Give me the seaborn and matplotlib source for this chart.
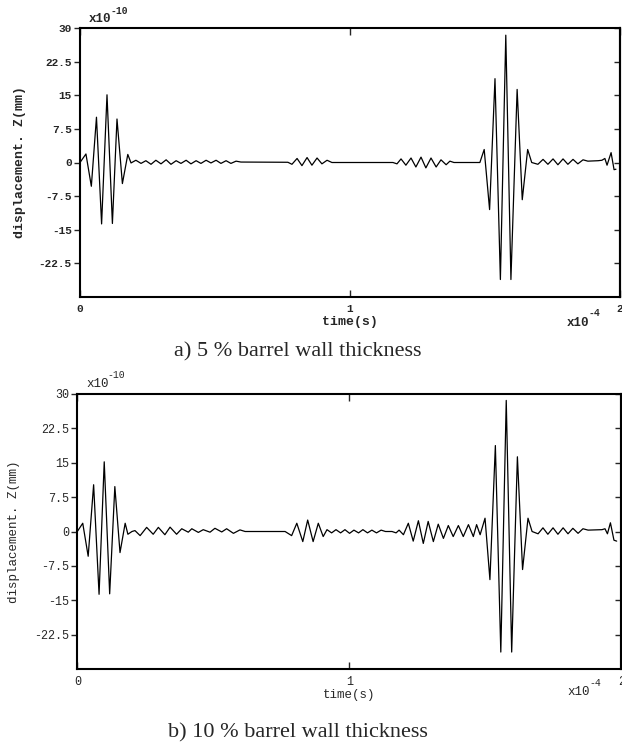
import matplotlib
matplotlib.use("Agg")
import matplotlib.pyplot as plt
import pandas as pd
import seaborn as sns

#############################################################
# Données : temps en x1e-4 s, déplacement en x1e-10 mm
#############################################################
# a) 5 % barrel wall thickness
t_a = [0.000, 0.022, 0.042, 0.061, 0.080, 0.100, 0.120, 0.137, 0.157, 0.177, 0.189,
       0.207, 0.226, 0.244, 0.263, 0.281, 0.300, 0.319, 0.337, 0.356, 0.374, 0.393,
       0.411, 0.430, 0.448, 0.467, 0.485, 0.504, 0.522, 0.541, 0.559, 0.578, 0.596,
       0.770, 0.785, 0.804, 0.822, 0.841, 0.859, 0.878, 0.896, 0.915, 0.933,
       1.159, 1.174, 1.189, 1.207, 1.226, 1.244, 1.263, 1.281, 1.300, 1.319, 1.337,
       1.356, 1.370, 1.385, 1.481,
       1.497, 1.517, 1.537, 1.557, 1.577, 1.596, 1.619, 1.638, 1.658, 1.673,
       1.696, 1.715, 1.733, 1.752, 1.770, 1.789, 1.807, 1.826, 1.844, 1.863, 1.881,
       1.919, 1.933, 1.944, 1.952, 1.967, 1.978, 1.985]
z_a = [0.0, 1.9, -5.3, 10.1, -13.7, 15.1, -13.6, 9.7, -4.7, 1.8, -0.1,
       0.5, -0.2, 0.4, -0.4, 0.5, -0.3, 0.6, -0.4, 0.4, -0.2, 0.5,
       -0.3, 0.4, -0.2, 0.5, -0.1, 0.5, -0.2, 0.4, -0.2, 0.3, 0.1,
       0.05, -0.4, 0.9, -0.7, 1.1, -0.6, 1.0, -0.3, 0.5, 0.0,
       0.0, -0.3, 0.8, -0.6, 1.0, -1.0, 1.2, -1.2, 1.0, -1.0, 0.6,
       -0.5, 0.3, 0.0, 0.0,
       2.9, -10.5, 18.7, -26.1, 28.4, -26.1, 16.3, -8.3, 2.9, 0.0,
       -0.4, 0.7, -0.4, 0.8, -0.5, 0.8, -0.4, 0.7, -0.3, 0.6, 0.3,
       0.4, 0.5, 0.9, -0.6, 2.2, -1.6, -1.5]

# b) 10 % barrel wall thickness
t_b = [0.000, 0.020, 0.040, 0.060, 0.080, 0.099, 0.119, 0.138, 0.157, 0.176,
       0.186, 0.201, 0.212, 0.231, 0.255, 0.279, 0.298, 0.322, 0.341, 0.365,
       0.384, 0.408, 0.421, 0.445, 0.463, 0.488, 0.506, 0.531, 0.549, 0.574,
       0.598, 0.617, 0.764, 0.788, 0.807, 0.829, 0.847, 0.867, 0.886, 0.904,
       0.918, 0.935, 0.951, 0.968, 0.984, 1.001, 1.017, 1.034, 1.050, 1.067,
       1.083, 1.100, 1.117, 1.133, 1.157, 1.172, 1.183, 1.199, 1.217, 1.235,
       1.254, 1.272, 1.290, 1.309, 1.327, 1.346, 1.364, 1.382, 1.401, 1.419,
       1.438, 1.456, 1.468, 1.481, 1.499, 1.517, 1.537, 1.557, 1.577, 1.597,
       1.618, 1.637, 1.657, 1.672, 1.694, 1.712, 1.730, 1.749, 1.767, 1.786,
       1.804, 1.822, 1.841, 1.859, 1.878, 1.929, 1.940, 1.949, 1.960, 1.973, 1.983]
z_b = [0.0, 1.8, -5.4, 10.2, -13.7, 15.2, -13.6, 9.8, -4.6, 1.8,
       -0.6, 0.0, 0.2, -0.9, 0.9, -0.6, 0.9, -0.7, 0.95, -0.6,
       0.6, -0.15, 0.6, -0.2, 0.4, -0.15, 0.7, -0.1, 0.6, -0.4,
       0.35, 0.0, 0.0, -0.9, 1.8, -2.2, 2.5, -2.2, 1.8, -1.1,
       0.4, -0.3, 0.4, -0.3, 0.4, -0.4, 0.3, -0.3, 0.4, -0.3,
       0.3, -0.3, 0.3, 0.0, 0.0, -0.3, 0.3, -0.7, 1.8, -2.1,
       2.35, -2.6, 2.2, -2.2, 1.6, -1.5, 1.3, -1.1, 1.3, -1.1,
       1.5, -1.1, 1.5, -0.7, 2.9, -10.5, 18.75, -26.3, 28.6, -26.3,
       16.3, -8.3, 2.9, 0.0, -0.5, 0.8, -0.6, 0.8, -0.6, 0.8,
       -0.5, 0.7, -0.4, 0.6, 0.3, 0.4, 0.6, -0.5, 1.9, -1.9, -2.1]

y_ticks = [30, 22.5, 15, 7.5, 0, -7.5, -15, -22.5]
y_tick_labels = ['30', '22.5', '15', '7.5', '0', '-7.5', '-15', '-22.5']
x_ticks = [0, 1, 2]
x_tick_labels = ['0', '1', '2']
captions = ['a) 5 % barrel wall thickness', 'b) 10 % barrel wall thickness']

dfA = pd.DataFrame({'t': t_a, 'z': z_a})
dfB = pd.DataFrame({'t': t_b, 'z': z_b})

#############################################################
sns.set_style("white")
plt.rcParams['font.family'] = ['Liberation Mono', 'DejaVu Sans']

fig = plt.figure(figsize=(6.22, 7.44), dpi=100)
ax1 = fig.add_axes([80/622, 1-297/744, 540/622, 269/744])
ax2 = fig.add_axes([77.3/622, 1-669/744, 544/622, 275/744])

def drawPanel(ax, df, bold, tickSize, labelSize, labelX):
    w = 'bold' if bold else 'normal'
    sns.lineplot(x='t', y='z', data=df, ax=ax, color='black', linewidth=0.9,
                 sort=False, estimator=None)
    ax.set_xlim(0, 2)
    ax.set_ylim(-30, 30)
    ax.set_yticks(y_ticks)
    ax.set_yticklabels(y_tick_labels, fontweight=w, fontsize=tickSize)
    ax.set_xticks(x_ticks)
    ax.set_xticklabels(x_tick_labels, fontweight=w, fontsize=tickSize)
    ax.tick_params(axis='y', left=True, direction='out', length=4, width=1, pad=2)
    ax.tick_params(axis='x', bottom=True, top=True, direction='in', length=5, width=1, pad=5)
    for s in ax.spines.values():
        s.set_color('black')
        s.set_linewidth(1.5)
    # ticks du côté droit, vers l'intérieur
    sec = ax.secondary_yaxis('right')
    sec.set_yticks(y_ticks)
    sec.tick_params(direction='in', length=4, width=1, labelright=False)
    sec.spines['right'].set_linewidth(1.5)
    ax.set_ylabel('displacement. Z(mm)', fontweight=w, fontsize=labelSize)
    ax.yaxis.set_label_coords(labelX, 0.5)
    ax.set_xlabel('time(s)', fontweight=w, fontsize=labelSize)
    ax.xaxis.set_label_coords(0.5, -0.072)

drawPanel(ax1, dfA, True, 8, 9.5, -0.1)
drawPanel(ax2, dfB, False, 8.5, 9, -0.105)

# facteurs d'échelle
fig.text(89/622, 1-19/744, 'x10', fontsize=9, fontweight='bold', ha='left', va='center')
fig.text(111/622, 1-11/744, '-10', fontsize=7, fontweight='bold', ha='left', va='center')
fig.text(567/622, 1-323/744, 'x10', fontsize=9, fontweight='bold', ha='left', va='center')
fig.text(589/622, 1-313/744, '-4', fontsize=7, fontweight='bold', ha='left', va='center')
fig.text(86/622, 1-384/744, 'x10', fontsize=9, ha='left', va='center')
fig.text(107/622, 1-375/744, '-10', fontsize=7, ha='left', va='center')
fig.text(567/622, 1-692/744, 'x10', fontsize=9, ha='left', va='center')
fig.text(589/622, 1-683/744, '-4', fontsize=7, ha='left', va='center')

# légendes sous les graphiques
fig.text(298/622, 1-352/744, captions[0], fontsize=16, family='Liberation Serif',
         ha='center', va='center')
fig.text(298/622, 1-733/744, captions[1], fontsize=16, family='Liberation Serif',
         ha='center', va='center')

fig.savefig("out.png", dpi=100)
